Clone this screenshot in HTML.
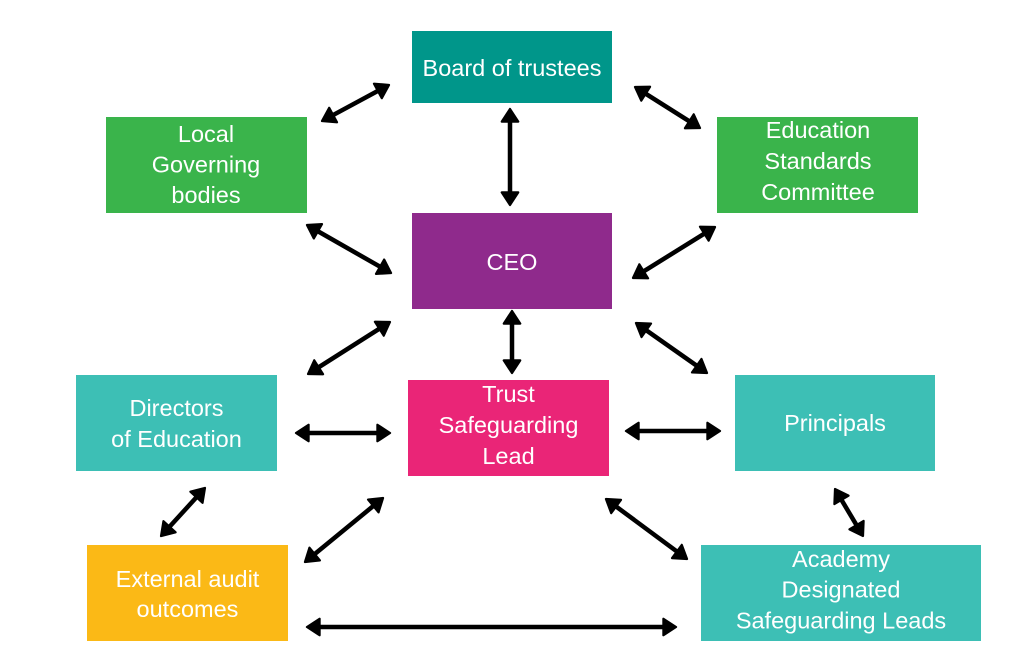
<!DOCTYPE html>
<html>
<head>
<meta charset="utf-8">
<style>
html,body{margin:0;padding:0;background:#fff;}
svg{display:block;}
text{font-family:"Liberation Sans",Arial,sans-serif;font-size:23.5px;fill:#fff;text-anchor:middle;}
</style>
</head>
<body>
<svg width="1024" height="670" viewBox="0 0 1024 670" xmlns="http://www.w3.org/2000/svg">
<defs>
<marker id="ah" markerUnits="userSpaceOnUse" markerWidth="20" markerHeight="22" viewBox="-2 -2 18 20" refX="6" refY="8" orient="auto-start-reverse">
<path d="M0,0.5 L11.5,8 L0,15.5 Z" fill="#000" stroke="#000" stroke-width="2" stroke-linejoin="round"/>
</marker>
</defs>

<!-- boxes -->
<rect x="412" y="31" width="200" height="72" fill="#00968a"/>
<rect x="106" y="117" width="201" height="96" fill="#3ab44b"/>
<rect x="717" y="117" width="201" height="96" fill="#3ab44b"/>
<rect x="412" y="213" width="200" height="96" fill="#8f2a8c"/>
<rect x="76" y="375" width="201" height="96" fill="#3dbfb5"/>
<rect x="408" y="380" width="201" height="96" fill="#ea2577"/>
<rect x="735" y="375" width="200" height="96" fill="#3dbfb5"/>
<rect x="87" y="545" width="201" height="96" fill="#fbb916"/>
<rect x="701" y="545" width="280" height="96" fill="#3dbfb5"/>

<!-- text -->
<text x="512" y="76">Board of trustees</text>
<text x="206" y="142">Local</text>
<text x="206" y="172.5">Governing</text>
<text x="206" y="203">bodies</text>
<text x="818" y="138">Education</text>
<text x="818" y="169">Standards</text>
<text x="818" y="200">Committee</text>
<text x="512" y="270">CEO</text>
<text x="176.5" y="416">Directors</text>
<text x="176.5" y="447">of Education</text>
<text x="508.5" y="402">Trust</text>
<text x="508.5" y="433">Safeguarding</text>
<text x="508.5" y="464">Lead</text>
<text x="835" y="431">Principals</text>
<text x="187.5" y="587">External audit</text>
<text x="187.5" y="617">outcomes</text>
<text x="841" y="567">Academy</text>
<text x="841" y="597.5">Designated</text>
<text x="841" y="628.5">Safeguarding Leads</text>

<!-- arrows -->
<g stroke="#000" stroke-width="4.5" fill="none" marker-start="url(#ah)" marker-end="url(#ah)">
<line x1="327.3" y1="118.2" x2="383.7" y2="87.8"/>
<line x1="640.1" y1="90.2" x2="694.9" y2="124.8"/>
<line x1="510" y1="115" x2="510" y2="199"/>
<line x1="312.2" y1="228" x2="385.8" y2="270"/>
<line x1="638.1" y1="274.8" x2="709.9" y2="230.2"/>
<line x1="512" y1="317" x2="512" y2="367"/>
<line x1="313.1" y1="370.8" x2="384.9" y2="325.2"/>
<line x1="640.9" y1="326.5" x2="702.1" y2="369.5"/>
<line x1="302" y1="433" x2="384" y2="433"/>
<line x1="632" y1="431" x2="714" y2="431"/>
<line x1="165.1" y1="531.6" x2="200.9" y2="492.4"/>
<line x1="309.6" y1="558.2" x2="378.4" y2="501.8"/>
<line x1="610.8" y1="502.6" x2="682.2" y2="555.4"/>
<line x1="838.1" y1="494.2" x2="859.9" y2="530.8"/>
<line x1="313" y1="627" x2="670" y2="627"/>
</g>
</svg>
</body>
</html>
